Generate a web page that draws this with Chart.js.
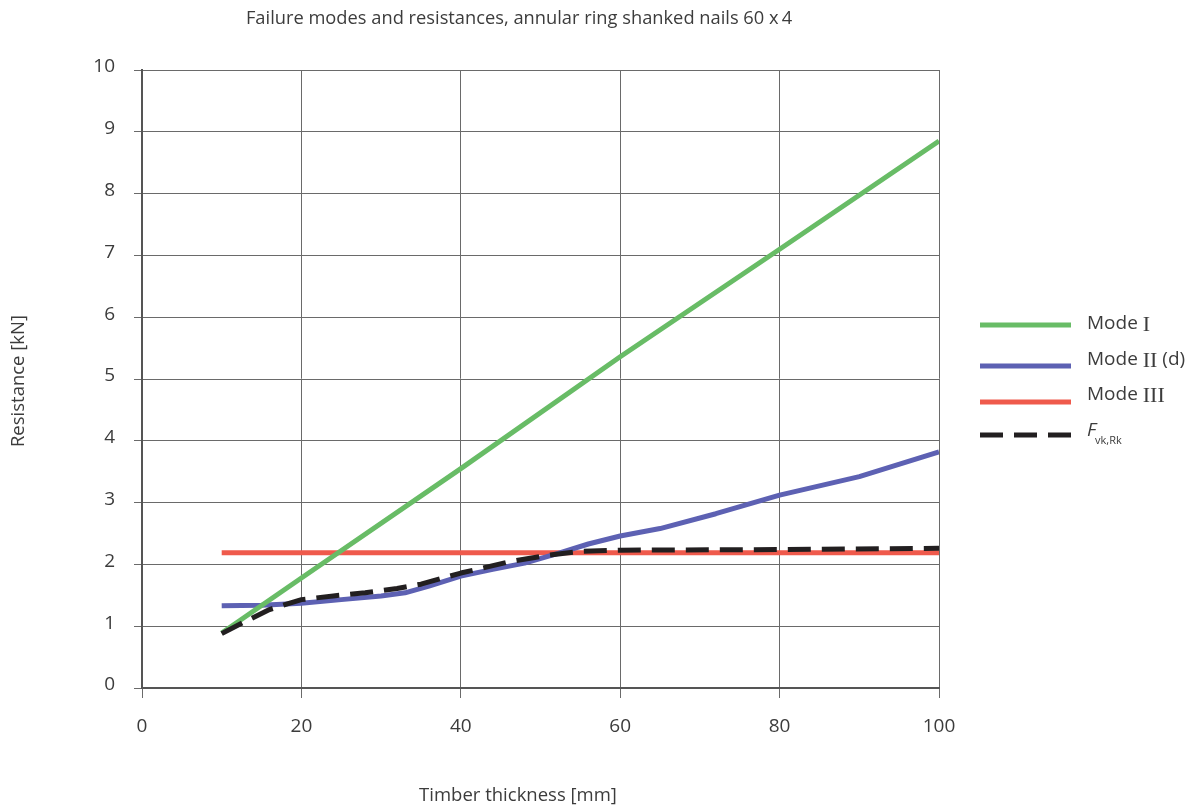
<!DOCTYPE html>
<html><head><meta charset="utf-8">
<script src="https://cdn.jsdelivr.net/npm/chart.js@4"></script>
<style>html,body{margin:0;padding:0;background:#fff}#wrap{width:1195px;height:805px;position:relative}</style>
</head><body><div id="wrap"><canvas id="c" width="1195" height="805"></canvas></div>
<script>
const chartTitle = 'Failure modes and resistances, annular ring shanked nails 60 x\u20094';
const xAxisTitle = 'Timber thickness [mm]';
const yAxisTitle = 'Resistance [kN]';
const seriesNames = ['Mode I', 'Mode II (d)', 'Mode III', 'Fvk,Rk'];

const modeIThickness = [10, 20, 40, 60, 80, 100];
const modeIValues = [0.89, 1.78, 3.55, 5.36, 7.10, 8.85];

const modeIIThickness = [10, 15, 20, 25, 30, 33, 36, 40, 44, 48, 52, 56, 60, 65, 72, 80, 90, 100];
const modeIIValues = [1.33, 1.34, 1.37, 1.43, 1.49, 1.54, 1.65, 1.81, 1.92, 2.02, 2.17, 2.33, 2.46, 2.58, 2.82, 3.12, 3.42, 3.82];

const modeIIIThickness = [10, 100];
const modeIIIValues = [2.19, 2.19];

const fvkThickness = [10, 13, 16, 20, 24, 28, 32, 35, 40, 46, 51, 55, 60, 80, 100];
const fvkValues = [0.88, 1.08, 1.27, 1.43, 1.49, 1.54, 1.61, 1.68, 1.86, 2.04, 2.15, 2.21, 2.23, 2.24, 2.26];

const xMin = 0, xMax = 100, xStep = 20;
const yMin = 0, yMax = 10, yStep = 1;

function pts(xs, ys) { return xs.map((x, i) => ({ x: x, y: ys[i] })); }

const SANS = '"Open Sans", "Noto Sans", sans-serif';
const SERIF = '"Liberation Serif", "DejaVu Serif", serif';
const TXT = '#3c3c3c';

const textPlugin = {
  id: 'texts',
  afterDraw(chart) {
    const ctx = chart.ctx;
    ctx.save();
    ctx.fillStyle = TXT;
    ctx.textBaseline = 'middle';
    ctx.textAlign = 'center';
    ctx.font = '18.3px ' + SANS;
    ctx.fillText(chartTitle, 519, 19);
    ctx.font = '18.5px ' + SANS;
    ctx.fillText(xAxisTitle, 518, 796);
    ctx.save();
    ctx.translate(19, 381);
    ctx.rotate(-Math.PI / 2);
    ctx.fillText(yAxisTitle, 0, 0);
    ctx.restore();

    // legend
    const lineY = [325, 366, 402, 435];
    const textY = [324, 360, 395, 431];
    chart.data.datasets.forEach((ds, i) => {
      ctx.save();
      ctx.strokeStyle = ds.borderColor;
      ctx.lineWidth = ds.borderWidth;
      ctx.setLineDash(ds.borderDash || []);
      ctx.lineCap = 'butt';
      ctx.beginPath();
      ctx.moveTo(980, lineY[i]);
      ctx.lineTo(1071, lineY[i]);
      ctx.stroke();
      ctx.restore();
      ctx.textAlign = 'left';
      ctx.fillStyle = TXT;
      const label = ds.label;
      let x = 1087;
      const m = label.match(/^(Mode )(I+)(.*)$/);
      if (m) {
        ctx.font = '19px ' + SANS;
        ctx.fillText(m[1], x, textY[i]);
        x += ctx.measureText(m[1]).width;
        ctx.font = '22px ' + SERIF;
        ctx.fillText(m[2], x, textY[i] + 1);
        x += ctx.measureText(m[2]).width;
        ctx.font = '19px ' + SANS;
        ctx.fillText(m[3], x, textY[i]);
      } else {
        ctx.font = 'italic 19px ' + SANS;
        ctx.fillText(label.charAt(0), x, textY[i]);
        x += ctx.measureText(label.charAt(0)).width - 1;
        ctx.font = '11px ' + SANS;
        ctx.fillText(label.slice(1), x, textY[i] + 10);
      }
    });
    ctx.restore();
  }
};

new Chart(document.getElementById('c'), {
  type: 'line',
  data: {
    datasets: [
      { label: seriesNames[0], data: pts(modeIThickness, modeIValues), borderColor: '#68bc66', borderWidth: 5, tension: 0, order: 1 },
      { label: seriesNames[1], data: pts(modeIIThickness, modeIIValues), borderColor: '#5d61b3', borderWidth: 5, tension: 0, borderJoinStyle: 'round', order: 2 },
      { label: seriesNames[2], data: pts(modeIIIThickness, modeIIIValues), borderColor: '#ef5a4c', borderWidth: 5, tension: 0, order: 3 },
      { label: seriesNames[3], data: pts(fvkThickness, fvkValues), borderColor: '#221f20', borderWidth: 5, borderDash: [23, 11], tension: 0, borderJoinStyle: 'round', order: 0 }
    ]
  },
  options: {
    responsive: false,
    animation: false,
    events: [],
    elements: { point: { radius: 0 } },
    layout: { padding: { left: 0, right: 256, top: 70, bottom: 0 } },
    plugins: { legend: { display: false }, tooltip: { enabled: false }, title: { display: false } },
    scales: {
      x: {
        type: 'linear', min: xMin, max: xMax,
        ticks: { stepSize: xStep, color: TXT, font: { family: SANS, size: 19 }, padding: 17, maxRotation: 0 },
        grid: { color: '#6a6a6a', lineWidth: 1, tickLength: 10, drawTicks: true },
        border: { color: '#555', width: 2 },
        afterFit(s) { s.height = 117; }
      },
      y: {
        type: 'linear', min: yMin, max: yMax,
        ticks: { stepSize: yStep, color: TXT, font: { family: SANS, size: 19 }, padding: 19, labelOffset: -3 },
        grid: { color: '#6a6a6a', lineWidth: 1, tickLength: 8, drawTicks: true },
        border: { color: '#555', width: 2 },
        afterFit(s) { s.width = 142; }
      }
    }
  },
  plugins: [textPlugin]
});
</script>
</body></html>
